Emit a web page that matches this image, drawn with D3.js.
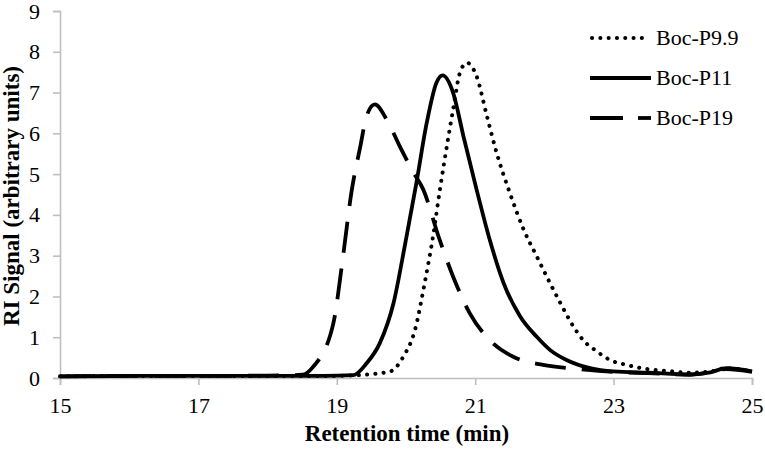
<!DOCTYPE html>
<html>
<head>
<meta charset="utf-8">
<style>
  body { margin: 0; background: #fff; }
</style>
</head>
<body>
<svg id="chart" width="765" height="452"></svg>
<script src="https://d3js.org/d3.v7.min.js"></script>
<script>
// values: [retention time (min), RI signal]
const bocP99 = [[15,0.04],[16,0.05],[17,0.05],[18,0.05],[18.8,0.05],[19.29,0.07],[19.77,0.16],[19.96,0.52],[20.13,1.18],[20.27,2.33],
  [20.39,3.47],[20.49,4.62],[20.59,5.68],[20.68,6.58],[20.78,7.49],[20.88,7.73],[21.02,7.40],[21.17,6.42],
  [21.31,5.52],[21.50,4.54],[21.70,3.64],[21.89,2.98],[22.08,2.33],[22.23,1.84],[22.42,1.26],[22.56,0.93],
  [22.76,0.65],[22.95,0.44],[23.19,0.32],[23.48,0.22],[23.8,0.17],[24.1,0.13],[24.4,0.16],[24.63,0.24],[25,0.16]];
const bocP11 = [[15,0.04],[16,0.05],[17,0.05],[18,0.05],[18.8,0.05],[19.24,0.07],[19.43,0.36],[19.62,0.85],[19.82,1.84],[19.99,3.31],
  [20.15,4.78],[20.30,6.26],[20.44,7.24],[20.53,7.42],[20.68,7.0],[20.83,5.93],[21.02,4.62],[21.21,3.39],
  [21.41,2.33],[21.65,1.51],[21.89,1.01],[22.08,0.69],[22.32,0.44],[22.66,0.24],[23.0,0.16],[23.5,0.13],
  [24.1,0.09],[24.4,0.14],[24.63,0.24],[25,0.16]];
const bocP19 = [[15,0.04],[16,0.05],[17,0.05],[18,0.06],[18.5,0.08],[18.66,0.28],[18.95,1.34],[19.09,2.98],[19.21,4.54],[19.34,5.68],
  [19.43,6.42],[19.55,6.71],[19.72,6.34],[19.91,5.68],[20.11,5.03],[20.25,4.62],[20.47,3.47],[20.68,2.49],
  [20.92,1.59],[21.21,0.93],[21.55,0.52],[21.98,0.32],[22.5,0.22],[23.0,0.15],[23.5,0.12],[24.1,0.08],
  [24.4,0.14],[24.63,0.22],[25,0.15]];
const seriesNames = ["Boc-P9.9", "Boc-P11", "Boc-P19"];
const xTicks = [15, 17, 19, 21, 23, 25];
const yTicks = [0, 1, 2, 3, 4, 5, 6, 7, 8, 9];

const font = "Liberation Serif";

const margin = {top: 11, right: 13, bottom: 74, left: 60},
  width = 765 - margin.left - margin.right,
  height = 452 - margin.top - margin.bottom;

const svg = d3.select('#chart');
const chart = svg.append('g')
  .attr('transform', `translate(${margin.left},${margin.top})`);

const x = d3.scaleLinear().domain([15, 25]).range([0, width]);
const y = d3.scaleLinear().domain([0, 9]).range([height, 0]);

const xAxis = chart.append('g')
  .attr('transform', `translate(0,${height})`)
  .call(d3.axisBottom(x).tickValues(xTicks).tickSize(7).tickPadding(12));
const yAxis = chart.append('g')
  .call(d3.axisLeft(y).tickValues(yTicks).tickSize(7).tickPadding(13));

[xAxis, yAxis].forEach(a => {
  a.attr('font-family', font).attr('font-size', 22);
  a.selectAll('path, line').attr('stroke', '#bfbfbf').attr('stroke-width', 1.6);
  a.selectAll('text').attr('fill', '#000');
});

const styles = [
  {dash: '0.1,8.2', width: 4, cap: 'round'},
  {dash: null, width: 3.8, cap: 'butt'},
  {dash: '31,16', width: 3.8, cap: 'butt'}
];

const line = d3.line()
  .x(d => x(d[0]))
  .y(d => y(d[1]))
  .curve(d3.curveMonotoneX);

[bocP99, bocP11, bocP19].forEach((s, i) => {
  chart.append('path')
    .datum(s)
    .attr('fill', 'none')
    .attr('stroke', '#000')
    .attr('stroke-width', styles[i].width)
    .attr('stroke-linecap', styles[i].cap)
    .attr('stroke-linejoin', 'round')
    .attr('stroke-dasharray', styles[i].dash)
    .attr('d', line);
});

// legend
const legend = svg.append('g').attr('transform', 'translate(590,38)');
seriesNames.forEach((n, i) => {
  const g = legend.append('g').attr('transform', `translate(0,${i * 40})`);
  if (i === 2) {
    g.append('line').attr('x1', 0).attr('x2', 33).attr('stroke', '#000').attr('stroke-width', 3.8);
    g.append('line').attr('x1', 48).attr('x2', 61).attr('stroke', '#000').attr('stroke-width', 3.8);
  } else {
    g.append('line').attr('x1', i === 0 ? 2 : 0).attr('x2', i === 0 ? 55 : 61)
      .attr('stroke', '#000').attr('stroke-width', styles[i].width)
      .attr('stroke-linecap', styles[i].cap).attr('stroke-dasharray', styles[i].dash);
  }
  g.append('text').attr('x', 66).attr('y', 7)
    .attr('font-family', font).attr('font-size', 22).text(n);
});

// axis titles
svg.append('text')
  .attr('x', margin.left + width / 2 + 1).attr('y', 441)
  .attr('text-anchor', 'middle')
  .attr('font-family', font).attr('font-size', 23).attr('font-weight', 'bold')
  .text('Retention time (min)');
svg.append('text')
  .attr('transform', `translate(19,196) rotate(-90)`)
  .attr('text-anchor', 'middle')
  .attr('font-family', font).attr('font-size', 23).attr('font-weight', 'bold')
  .text('RI Signal (arbitrary  units)');
</script>
</body>
</html>
